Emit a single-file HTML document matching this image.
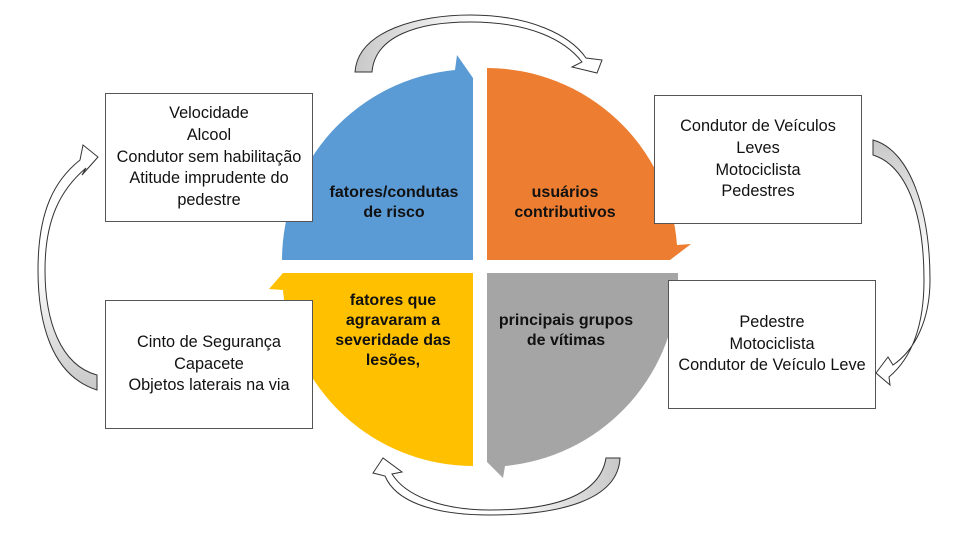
<!DOCTYPE html>
<html><head><meta charset="utf-8"><style>
html,body{margin:0;padding:0;background:#fff;}
body{width:958px;height:539px;position:relative;overflow:hidden;font-family:"Liberation Sans",Arial,sans-serif;}
.box{position:absolute;border:1.5px solid #555;background:#fff;box-sizing:border-box;text-align:center;font-size:16.3px;line-height:21.8px;color:#111;display:flex;flex-direction:column;justify-content:center;}
.lbl{position:absolute;text-align:center;font-weight:bold;font-size:16px;line-height:20px;color:#111;}
</style></head><body>
<svg width="958" height="539" style="position:absolute;left:0;top:0">
<defs>
<linearGradient id="gt" x1="0" x2="1" y1="0" y2="0"><stop offset="0" stop-color="#c8c8c8"/><stop offset="0.5" stop-color="#fff"/></linearGradient>
<linearGradient id="gb" x1="1" x2="0" y1="0" y2="0"><stop offset="0" stop-color="#c8c8c8"/><stop offset="0.5" stop-color="#fff"/></linearGradient>
<linearGradient id="gl" x1="0" x2="0" y1="1" y2="0"><stop offset="0" stop-color="#c8c8c8"/><stop offset="0.5" stop-color="#fff"/></linearGradient>
<linearGradient id="gr" x1="0" x2="0" y1="0" y2="1"><stop offset="0" stop-color="#c8c8c8"/><stop offset="0.5" stop-color="#fff"/></linearGradient>
</defs>
<path d="M473,260 L282,260 A191,191 0 0 1 455,70 L457,55 L473,78 Z" fill="#5b9bd5"/>
<path d="M487,260 L487,68 A191,191 0 0 1 677,245 L691,244 L670,260 Z" fill="#ed7d31"/>
<path d="M487,273 L678,273 L678,285 A191,191 0 0 1 505,466 L503,478 L487,462 Z" fill="#a5a5a5"/>
<path d="M473,273 L283,273 L269,289 L283,290 A191,191 0 0 0 473,466 Z" fill="#ffc000"/>
<path d="M355,72 C358,30 420,15 470,15 C530,15 570,35 586,58 L602,60 L597,73 L572,67 L582,62 C565,40 530,22 470,22 C420,22 375,35 372,72 Z" fill="url(#gt)" stroke="#333" stroke-width="1"/>
<path d="M620,458 C618,500 560,515 490,515 C430,515 395,500 385,476 L373,473 L383,458 L402,472 L392,474 C405,495 440,510 490,510 C555,510 600,495 606,458 Z" fill="url(#gb)" stroke="#333" stroke-width="1"/>
<path d="M97,390 C50,375 38,320 38,270 C38,210 55,180 80,160 L83,145 L98,157 L82,175 L86,168 C60,190 45,220 45,270 C45,320 60,365 97,375 Z" fill="url(#gl)" stroke="#333" stroke-width="1"/>
<path d="M873,140 C910,150 930,210 930,280 C930,320 915,350 893,365 L888,357 L876,373 L890,385 L889,377 C915,355 924,320 924,280 C924,210 905,165 873,155 Z" fill="url(#gr)" stroke="#333" stroke-width="1"/>
</svg>
<div class="box" style="left:105px;top:93px;width:208px;height:129px;">Velocidade<br>Alcool<br>Condutor sem habilitação<br>Atitude imprudente do<br>pedestre</div>
<div class="box" style="left:105px;top:300px;width:208px;height:129px;">Cinto de Segurança<br>Capacete<br>Objetos laterais na via</div>
<div class="box" style="left:654px;top:95px;width:208px;height:129px;">Condutor de Veículos<br>Leves<br>Motociclista<br>Pedestres</div>
<div class="box" style="left:668px;top:280px;width:208px;height:129px;">Pedestre<br>Motociclista<br>Condutor de Veículo Leve</div>
<div class="lbl" style="left:304px;top:183px;width:180px;">fatores/condutas<br>de risco</div>
<div class="lbl" style="left:475px;top:183px;width:180px;">usuários<br>contributivos</div>
<div class="lbl" style="left:303px;top:291px;width:180px;">fatores que<br>agravaram a<br>severidade das<br>lesões,</div>
<div class="lbl" style="left:466px;top:311px;width:200px;">principais grupos<br>de vítimas</div>
</body></html>
